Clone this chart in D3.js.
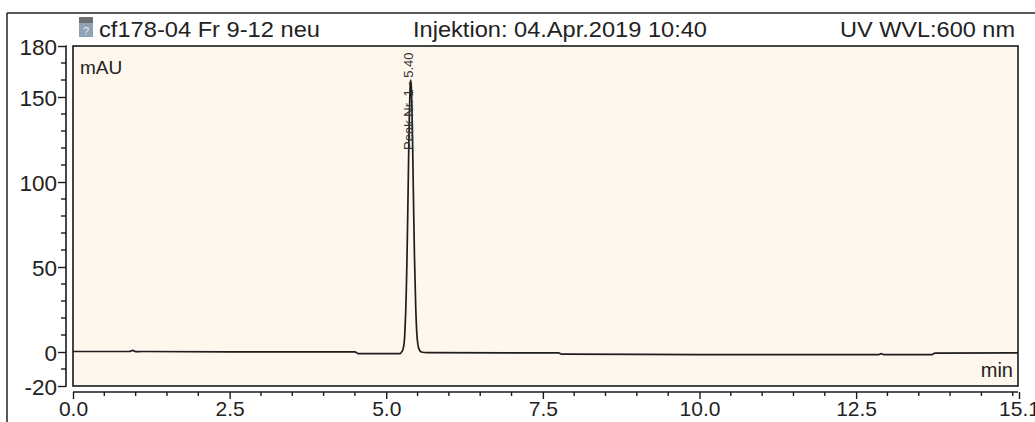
<!DOCTYPE html>
<html>
<head>
<meta charset="utf-8">
<script src="https://cdn.jsdelivr.net/npm/d3@7"></script>
<style>
  html, body { margin: 0; padding: 0; background: #ffffff; }
  svg { display: block; font-family: "Liberation Sans", Arial, sans-serif; }
</style>
</head>
<body>
<svg id="chart" width="1035" height="422"></svg>
<script>
// ---- data ----
const titleLeft = "cf178-04 Fr 9-12 neu";
const titleMid = "Injektion: 04.Apr.2019 10:40";
const titleRight = "UV WVL:600 nm";
const yUnit = "mAU";
const xUnit = "min";
const peakLabel = "Peak Nr. 1 - 5.40";
const peakTime = 5.37;

const yTickValues = [-20, 0, 50, 100, 150, 180];
const yTickLabels = ["-20", "0", "50", "100", "150", "180"];
const yMinorTicks = [-10, 10, 20, 30, 40, 60, 70, 80, 90, 110, 120, 130, 140, 160, 170];
const xTickValues = [0, 2.5, 5, 7.5, 10, 12.5, 15.1];
const xTickLabels = ["0.0", "2.5", "5.0", "7.5", "10.0", "12.5", "15.1"];
const xMinorTicks = [0.5, 1, 1.5, 2, 3, 3.5, 4, 4.5, 5.5, 6, 6.5, 7, 8, 8.5, 9, 9.5, 10.5, 11, 11.5, 12, 13, 13.5, 14, 14.5, 15];

const times = [0.00, 0.90, 0.95, 1.00, 1.10, 2.50, 4.50, 4.55, 5.15, 5.22, 5.25, 5.27, 5.29,
  5.30, 5.31, 5.32, 5.33, 5.34, 5.35, 5.36, 5.37, 5.38, 5.39, 5.40, 5.41, 5.42, 5.43, 5.44,
  5.45, 5.47, 5.49, 5.52, 5.56, 5.65,
  7.00, 7.75, 7.80, 10.00, 12.85, 12.90, 12.95, 13.70, 13.76, 15.00, 15.10];
const signal = [0.3, 0.3, 0.9, 0.2, 0.3, 0.1, 0.1, -0.9, -1.0, -0.9, 0.2, 2, 7,
  14, 23, 36, 53, 74, 97, 121, 141, 155, 160, 156, 143, 124, 101, 78,
  57, 27, 10, 2, 0, -0.4,
  -0.5, -0.5, -1.3, -1.5, -1.6, -1.0, -1.6, -1.6, -0.7, -0.5, -0.5];

// ---- layout ----
const svg = d3.select("#chart");
const plotL = 73, plotR = 1018, plotT = 46, plotB = 386;
const x = d3.scaleLinear().domain([0, 15.1]).range([plotL, 1019]);
const y = d3.scaleLinear().domain([-20, 180]).range([plotB, plotT]);
const fontTitle = 22;
const fontTick = 22.5;

// outer frame
svg.append("line").attr("x1", 7).attr("x2", 1035).attr("y1", 13).attr("y2", 13)
  .attr("stroke", "#222").attr("stroke-width", 1.5);
svg.append("line").attr("x1", 7).attr("x2", 7).attr("y1", 13).attr("y2", 422)
  .attr("stroke", "#222").attr("stroke-width", 1.5);

// title row
const icon = svg.append("g").attr("transform", "translate(79,17)");
icon.append("rect").attr("width", 14).attr("height", 20).attr("fill", "#8fa3b5");
icon.append("rect").attr("width", 14).attr("height", 6).attr("fill", "#6d6f73");
icon.append("text").attr("x", 7).attr("y", 18).attr("text-anchor", "middle")
  .attr("font-size", 11).attr("fill", "#e8eef4").text("?");
svg.append("text").attr("x", 99).attr("y", 37).attr("font-size", fontTitle).attr("fill", "#222")
  .attr("textLength", 221).attr("lengthAdjust", "spacingAndGlyphs").text(titleLeft);
svg.append("text").attr("x", 413).attr("y", 37).attr("font-size", fontTitle).attr("fill", "#222")
  .attr("textLength", 294).attr("lengthAdjust", "spacingAndGlyphs").text(titleMid);
svg.append("text").attr("x", 840).attr("y", 37).attr("font-size", fontTitle).attr("fill", "#222")
  .attr("textLength", 175).attr("lengthAdjust", "spacingAndGlyphs").text(titleRight);

// plot area
svg.append("rect").attr("x", plotL).attr("y", plotT).attr("width", plotR - plotL).attr("height", plotB - plotT)
  .attr("fill", "#fdf7ee").attr("stroke", "#1a1a1a").attr("stroke-width", 1.6);

svg.append("defs").append("clipPath").attr("id", "clip").append("rect")
  .attr("x", plotL).attr("y", plotT).attr("width", plotR - plotL).attr("height", plotB - plotT);

// y axis
const yAxisX = 66;
const yAxis = d3.axisLeft(y).tickValues(yTickValues).tickSize(8)
  .tickFormat((d, i) => yTickLabels[i]);
const gy = svg.append("g").attr("transform", `translate(${yAxisX},0)`).call(yAxis);
gy.select(".domain").attr("stroke", "#1a1a1a").attr("stroke-width", 1.6).attr("d", `M-0.5,${y(-20)}H0V${y(180)}H-0.5`);
gy.selectAll(".tick line").attr("stroke", "#1a1a1a").attr("stroke-width", 1.4);
gy.selectAll(".tick text").attr("font-size", fontTick).attr("font-family", "Liberation Sans, Arial, sans-serif")
  .attr("fill", "#222").attr("x", -9).attr("dy", "0.36em");
gy.selectAll(".minor").data(yMinorTicks).enter().append("line")
  .attr("x1", -5).attr("x2", 0).attr("y1", d => y(d)).attr("y2", d => y(d))
  .attr("stroke", "#1a1a1a").attr("stroke-width", 1.4);

// x axis
const xAxisY = 392;
const xAxis = d3.axisBottom(x).tickValues(xTickValues).tickSize(7)
  .tickFormat((d, i) => xTickLabels[i]);
const gx = svg.append("g").attr("transform", `translate(0,${xAxisY})`).call(xAxis);
gx.select(".domain").attr("stroke", "#1a1a1a").attr("stroke-width", 1.6).attr("d", `M${plotL},0H${plotR}`);
gx.selectAll(".tick line").attr("stroke", "#1a1a1a").attr("stroke-width", 1.4);
gx.selectAll(".tick text").attr("font-size", 21).attr("font-family", "Liberation Sans, Arial, sans-serif")
  .attr("fill", "#222").attr("y", 9).attr("dy", "0.71em");
gx.selectAll(".minor").data(xMinorTicks).enter().append("line")
  .attr("x1", d => x(d)).attr("x2", d => x(d)).attr("y1", 0).attr("y2", 4)
  .attr("stroke", "#1a1a1a").attr("stroke-width", 1.4);

// unit labels
svg.append("text").attr("x", 80).attr("y", 74).attr("font-size", 19).attr("fill", "#222").text(yUnit);
svg.append("text").attr("x", 1013).attr("y", 377).attr("text-anchor", "end").attr("font-size", 20).attr("fill", "#222").text(xUnit);

// trace
const pts = times.map((t, i) => [t, signal[i]]);
const line = d3.line().x(d => x(d[0])).y(d => y(d[1])).curve(d3.curveMonotoneX);
svg.append("path").attr("d", line(pts)).attr("fill", "none").attr("stroke", "#1e1e1e")
  .attr("stroke-width", 1.7).attr("clip-path", "url(#clip)");

// peak label
svg.append("g").attr("clip-path", "url(#clip)")
  .append("text")
  .attr("transform", `translate(${x(peakTime) + 4},150) rotate(-90)`)
  .attr("font-size", 13).attr("fill", "#333").text(peakLabel);
</script>
</body>
</html>
